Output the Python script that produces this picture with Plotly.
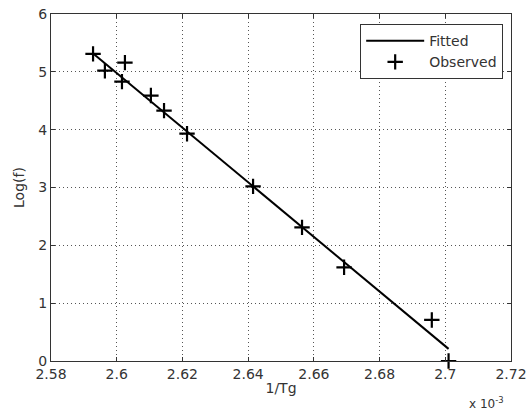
import plotly.graph_objects as go

# Observed data (1/Tg in units of 1e-3)
obs_x = [2.5928, 2.5964, 2.6025, 2.6016, 2.6104, 2.6144, 2.6214, 2.6415, 2.6564, 2.6692, 2.6959, 2.7010]
obs_y = [5.31, 5.02, 5.16, 4.83, 4.59, 4.33, 3.93, 3.02, 2.31, 1.62, 0.71, 0.00]

# Fitted line endpoints
fit_x = [2.5930, 2.7010]
fit_y = [5.31, 0.21]

x_ticks = [2.58, 2.60, 2.62, 2.64, 2.66, 2.68, 2.70, 2.72]
x_ticktext = ["2.58", "2.6", "2.62", "2.64", "2.66", "2.68", "2.7", "2.72"]
y_ticks = [0, 1, 2, 3, 4, 5, 6]

font = "DejaVu Sans, Liberation Sans, Arial, sans-serif"
tc = "#333"

fig = go.Figure()
fig.add_trace(go.Scatter(x=fit_x, y=fit_y, mode="lines", name="Fitted",
                         line=dict(color="black", width=2)))
fig.add_trace(go.Scatter(x=obs_x, y=obs_y, mode="markers", name="Observed",
                         marker=dict(symbol="cross-thin", size=11, color="black",
                                     line=dict(color="black", width=2.2)),
                         cliponaxis=False))

axis_common = dict(showline=True, linecolor="#333", linewidth=1, mirror="ticks",
                   ticks="inside", ticklen=4, tickcolor="#333",
                   showgrid=True, gridcolor="#555", griddash="1px,3px", gridwidth=1,
                   zeroline=False, automargin=False, ticklabeloverflow="allow",
                   tickfont=dict(family=font, size=14, color=tc))

fig.update_xaxes(range=[2.58, 2.72], tickvals=x_ticks, ticktext=x_ticktext,
                 title=dict(text="1/Tg", font=dict(family=font, size=14, color=tc), standoff=2),
                 **axis_common)
fig.update_yaxes(range=[0, 6], tickvals=y_ticks,
                 title=dict(text="Log(f)", font=dict(family=font, size=14, color=tc), standoff=10),
                 **axis_common)

fig.add_annotation(text="x 10<sup>-3</sup>", xref="paper", yref="paper",
                   x=0.99, y=-0.092, xanchor="right", yanchor="top", showarrow=False,
                   font=dict(family=font, size=12, color=tc))

fig.update_layout(
    width=526, height=416,
    margin=dict(l=51, r=15, t=14, b=55),
    plot_bgcolor="white", paper_bgcolor="white",
    showlegend=True,
    legend=dict(x=0.983, y=0.971, xanchor="right", yanchor="top",
                bgcolor="white", bordercolor="#333", borderwidth=1,
                font=dict(family=font, size=14, color=tc),
                itemwidth=58, tracegroupgap=0),
)

fig.write_html("out.html", config={"displayModeBar": False},
               post_script="document.body.style.margin='0';document.body.style.overflow='hidden';")
